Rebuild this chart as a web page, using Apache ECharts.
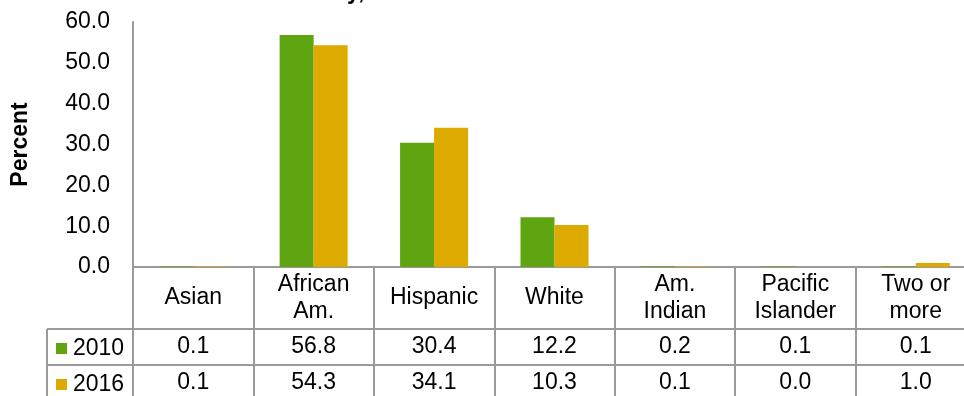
<!DOCTYPE html>
<html>
<head>
<meta charset="utf-8">
<script src="https://cdn.jsdelivr.net/npm/echarts@6/dist/echarts.min.js"></script>
<style>
  html, body { margin: 0; padding: 0; background: #fff; }
  #chart { width: 964px; height: 396px; }
</style>
</head>
<body>
<div id="chart"></div>
<script>
// data
const categories = ['Asian', 'African\nAm.', 'Hispanic', 'White', 'Am.\nIndian', 'Pacific\nIslander', 'Two or\nmore']
const seriesNames = ['2010', '2016']
const values2010 = [0.1, 56.8, 30.4, 12.2, 0.2, 0.1, 0.1]
const values2016 = [0.1, 54.3, 34.1, 10.3, 0.1, 0.0, 1.0]
const yTicks = { min: 0, max: 60, interval: 10 }

const font = '"Liberation Sans", Arial, sans-serif'
const fontSize = 23
const gridColor = '#9a9a9a'
const colors = ['#5fa512', '#ddaa00']

const chart = echarts.init(document.getElementById('chart'))

// one axis per table row, the labels are the row's values
const tableAxis = (vals, offset) => ({
  type: 'category',
  gridIndex: 0,
  position: 'bottom',
  offset: offset,
  data: vals.map(v => v.toFixed(1)),
  axisLine: { show: true, lineStyle: { color: gridColor, width: 2 } },
  axisTick: { show: true, interval: 0, length: 36, lineStyle: { color: gridColor, width: 2 } },
  axisLabel: {
    interval: 0, margin: 18, verticalAlign: 'middle',
    fontFamily: font, fontSize: fontSize, color: '#000'
  }
})

// one legend per table row so each key sits in its own row
const rowLegend = (name, top) => ({
  left: 51,
  top: top,
  icon: 'rect',
  itemWidth: 11,
  itemHeight: 11,
  itemGap: 0,
  textStyle: { fontFamily: font, fontSize: fontSize, color: '#000', padding: [0, 0, 0, 1] },
  selectedMode: false,
  data: [name]
})

const option = {
  animation: false,
  color: colors,
  textStyle: { fontFamily: font },
  grid: { left: 133, top: 22, height: 245, width: 843, outerBoundsMode: 'none' },
  legend: [
    rowLegend(seriesNames[0], 332),
    rowLegend(seriesNames[1], 368)
  ],
  xAxis: [
    {
      type: 'category',
      data: categories,
      axisLine: { show: true, lineStyle: { color: gridColor, width: 2 } },
      axisTick: { show: true, interval: 0, length: 62, lineStyle: { color: gridColor, width: 2 } },
      axisLabel: {
        interval: 0, margin: 31, verticalAlign: 'middle',
        fontFamily: font, fontSize: fontSize, lineHeight: 27, color: '#000'
      }
    },
    tableAxis(values2010, 62),
    tableAxis(values2016, 98)
  ],
  yAxis: {
    type: 'value',
    min: yTicks.min,
    max: yTicks.max,
    interval: yTicks.interval,
    name: 'Percent',
    nameLocation: 'middle',
    nameRotate: 90,
    nameGap: 101,
    nameTextStyle: { fontFamily: font, fontSize: fontSize, fontWeight: 'bold', color: '#000' },
    axisLine: { show: true, lineStyle: { color: gridColor, width: 2 } },
    axisTick: { show: false },
    splitLine: { show: false },
    axisLabel: {
      margin: 23, fontFamily: font, fontSize: fontSize, color: '#000',
      formatter: v => v.toFixed(1)
    }
  },
  series: [
    { name: seriesNames[0], type: 'bar', xAxisIndex: 0, barWidth: 34, barGap: '0%', data: values2010 },
    { name: seriesNames[1], type: 'bar', xAxisIndex: 0, barWidth: 34, barGap: '0%', data: values2016 }
  ],
  graphic: [
    // left legend column of the data table
    { type: 'line', shape: { x1: 47, y1: 329, x2: 133, y2: 329 }, style: { stroke: gridColor, lineWidth: 2 } },
    { type: 'line', shape: { x1: 47, y1: 365, x2: 133, y2: 365 }, style: { stroke: gridColor, lineWidth: 2 } },
    { type: 'line', shape: { x1: 47, y1: 329, x2: 47, y2: 396 }, style: { stroke: gridColor, lineWidth: 2 } },
    // bottom of the cropped title
    {
      type: 'text', left: 347, top: -19,
      style: { text: 'y,', fontFamily: font, fontSize: fontSize, fontWeight: 'bold', fill: '#000' }
    }
  ]
}

chart.setOption(option)
window.addEventListener('resize', () => chart.resize())
</script>
</body>
</html>
